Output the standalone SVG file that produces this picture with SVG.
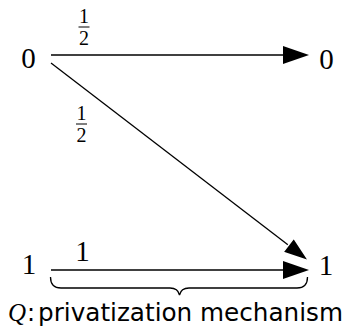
<svg xmlns="http://www.w3.org/2000/svg" width="348" height="331" viewBox="0 0 348 331">
<style>
.node{font-family:"Liberation Serif","Times New Roman",serif;font-size:29px;fill:#000;text-anchor:middle}
.frac{font-family:"Liberation Serif","Times New Roman",serif;font-size:20px;fill:#000;text-anchor:middle}
.edge{stroke:#000;stroke-width:1.3;fill:none}
.bar{stroke:#000;stroke-width:1}
.sans{font-family:"DejaVu Sans","Noto Sans",sans-serif;font-size:24px;fill:#000}
</style>
<defs>
<marker id="arr" markerUnits="userSpaceOnUse" markerWidth="28" markerHeight="20" viewBox="0 0 28 20" refX="7" refY="10" orient="auto">
<path d="M1,1 L27,10 L1,19 Z" fill="#000"/>
</marker>
<marker id="arrw" markerUnits="userSpaceOnUse" markerWidth="32" markerHeight="24" viewBox="-2 -2 32 24" refX="7" refY="10" orient="auto">
<path d="M1,1 L27,10 L1,19 Z" fill="#000" stroke="#fff" stroke-width="1.6"/>
</marker>
</defs>
<g id="connectors">
<line class="edge" x1="51" y1="55" x2="289" y2="55" marker-end="url(#arr)"/>
<line class="edge" x1="51" y1="270" x2="289" y2="270" marker-end="url(#arr)"/>
<line class="edge" x1="51" y1="63" x2="293.1" y2="248.8" marker-end="url(#arrw)"/>
</g>
<g id="node-0-left"><text class="node" x="28.5" y="67.5">0</text></g>
<g id="node-0-right"><text class="node" x="326.5" y="68.5">0</text></g>
<g id="node-1-left"><text class="node" x="29" y="273.5">1</text></g>
<g id="node-1-right"><text class="node" x="326" y="274.5">1</text></g>
<g id="label-top">
<text class="frac" x="84" y="23">1</text>
<line class="bar" x1="78.5" y1="27" x2="89.5" y2="27"/>
<text class="frac" x="84" y="45">2</text>
</g>
<g id="label-diag">
<text class="frac" x="81.5" y="120">1</text>
<line class="bar" x1="76" y1="124" x2="87" y2="124"/>
<text class="frac" x="81.5" y="142">2</text>
</g>
<g id="label-bottom"><text class="node" x="82.5" y="261">1</text></g>
<g id="brace">
<path class="edge" d="M50.5,277 Q50.5,288 61,288 L170,288 Q178,288 179.5,295 Q181,288 189,288 L297,288 Q307.5,288 307.5,277"/>
</g>
<g id="caption">
<text x="8" y="321" font-family="Liberation Serif,'Times New Roman',serif" font-style="italic" font-size="25">Q</text>
<text class="sans" x="27" y="321">:</text>
<text class="sans" x="38" y="321" textLength="305" lengthAdjust="spacingAndGlyphs">privatization mechanism</text>
</g>
</svg>
